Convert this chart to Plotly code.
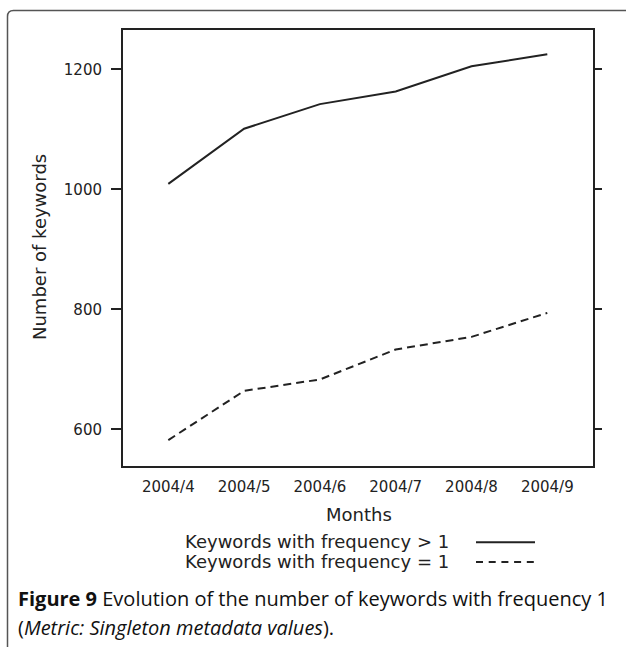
import plotly.graph_objects as go

# Monthly counts of keywords
months = ["2004/4", "2004/5", "2004/6", "2004/7", "2004/8", "2004/9"]
freq_gt1 = [1009, 1101, 1142, 1163, 1205, 1225]   # keywords with frequency > 1
freq_eq1 = [582, 664, 683, 733, 754, 794]        # keywords with frequency = 1
y_ticks = [600, 800, 1000, 1200]

W, H = 626, 647
ML, MR, MT, MB = 123, 33, 30, 181
PW, PH = W - ML - MR, H - MT - MB

INK = "#222222"
AX_FONT = "DejaVu Sans"


def px(x):
    return (x - ML) / PW


def py(y):
    return (H - MB - y) / PH


fig = go.Figure()
fig.add_trace(go.Scatter(x=months, y=freq_gt1, mode="lines",
                         line=dict(color=INK, width=2), showlegend=False))
fig.add_trace(go.Scatter(x=months, y=freq_eq1, mode="lines",
                         line=dict(color=INK, width=2, dash="8px,5px"),
                         showlegend=False))
# invisible trace carrying the right-hand tick marks
fig.add_trace(go.Scatter(x=months, y=freq_gt1, yaxis="y2", mode="lines",
                         line=dict(width=0), hoverinfo="skip", showlegend=False))

yrange = [538.8, 1265.5]

fig.update_layout(
    width=W, height=H,
    margin=dict(l=ML, r=MR, t=MT, b=MB, pad=0),
    paper_bgcolor="white", plot_bgcolor="white",
    font=dict(family=AX_FONT, color=INK),
    xaxis=dict(type="category", range=[-0.598, 5.603], showgrid=False,
               zeroline=False, showline=True, linecolor=INK, linewidth=2,
               mirror=True, ticks="", tickfont=dict(size=15, color=INK),
               ticklabelstandoff=6),
    yaxis=dict(range=yrange, tickvals=y_ticks, showgrid=False, zeroline=False,
               showline=True, linecolor=INK, linewidth=2, mirror=True,
               ticks="outside", ticklen=10, tickwidth=2, tickcolor=INK,
               tickfont=dict(size=15, color=INK), ticklabelstandoff=6),
    yaxis2=dict(range=yrange, tickvals=y_ticks, overlaying="y", side="right",
                showgrid=False, zeroline=False, showline=False,
                ticks="outside", ticklen=8, tickwidth=2, tickcolor=INK,
                showticklabels=False),
)

ann = []
# axis titles
ann.append(dict(x=px(358.5), y=py(514.5), xref="paper", yref="paper",
                text="Months", showarrow=False, xanchor="center",
                yanchor="middle", font=dict(size=18, color=INK, family=AX_FONT)))
ann.append(dict(x=px(40), y=py(247), xref="paper", yref="paper",
                text="Number of keywords", showarrow=False, textangle=-90,
                xanchor="center", yanchor="middle",
                font=dict(size=18, color=INK, family=AX_FONT)))
# legend text
for label, yy in [("Keywords with frequency &gt; 1", 541.5),
                  ("Keywords with frequency = 1", 561.0)]:
    ann.append(dict(x=px(183), y=py(yy), xref="paper", yref="paper",
                    text=label, showarrow=False, xanchor="left",
                    yanchor="middle",
                    font=dict(size=18, color=INK, family=AX_FONT)))
# caption
cap_font = dict(size=20, color="#111111", family="Open Sans")
ann.append(dict(x=px(16), y=py(598), xref="paper", yref="paper",
                text="<b>Figure 9</b> Evolution of the number of keywords with frequency 1",
                showarrow=False, xanchor="left", yanchor="middle", font=cap_font))
ann.append(dict(x=px(16), y=py(627), xref="paper", yref="paper",
                text="(<i>Metric: Singleton metadata values</i>).",
                showarrow=False, xanchor="left", yanchor="middle", font=cap_font))
fig.update_layout(annotations=ann)

shapes = []
# legend line samples
shapes.append(dict(type="line", xref="paper", yref="paper",
                   x0=px(476), x1=px(535), y0=py(542.3), y1=py(542.3),
                   line=dict(color=INK, width=2)))
shapes.append(dict(type="line", xref="paper", yref="paper",
                   x0=px(476), x1=px(535), y0=py(562), y1=py(562),
                   line=dict(color=INK, width=2, dash="7px,5.7px")))
# rounded outer frame, open towards right and bottom
x0, y0, r = 7.5, 10.5, 6
path = (f"M {px(x0)},{py(H + 20)} L {px(x0)},{py(y0 + r)} "
        f"Q {px(x0)},{py(y0)} {px(x0 + r)},{py(y0)} L {px(W + 20)},{py(y0)}")
shapes.append(dict(type="path", xref="paper", yref="paper", path=path,
                   line=dict(color="#555555", width=1.5)))
fig.update_layout(shapes=shapes)

fig.write_html("out.html")
